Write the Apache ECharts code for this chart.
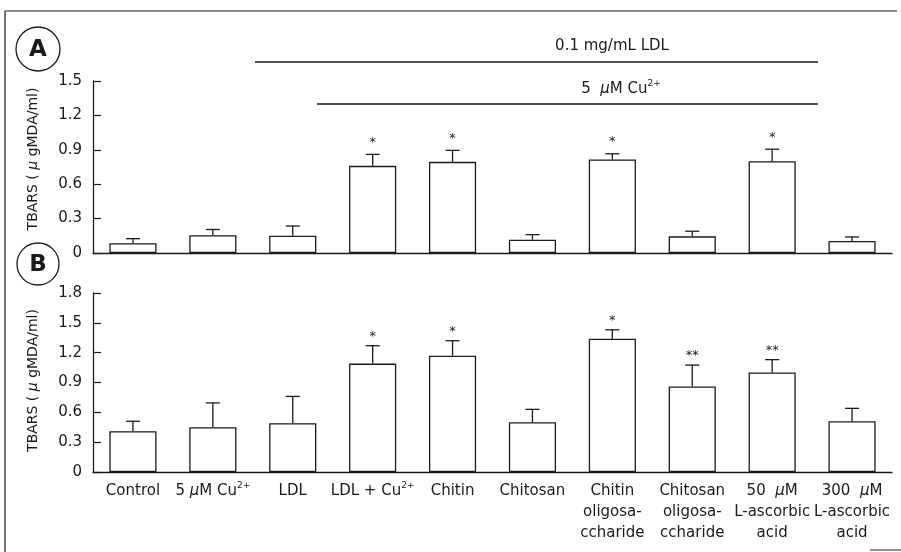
<!DOCTYPE html>
<html>
<head>
<meta charset="utf-8">
<script src="https://cdn.jsdelivr.net/npm/echarts@6/dist/echarts.min.js"></script>
<style>html,body{margin:0;padding:0;background:#fff}#c{width:901px;height:552px}</style>
</head>
<body>
<div id="c"></div>
<script>
var categories = ['Control', '5 {i|μ}M Cu{s|2+}', 'LDL', 'LDL + Cu{s|2+}', 'Chitin', 'Chitosan',
  'Chitin\noligosa-\nccharide', 'Chitosan\noligosa-\nccharide', '50  {i|μ}M\nL-ascorbic\nacid', '300  {i|μ}M\nL-ascorbic\nacid'];
var valuesA = [0.085, 0.155, 0.15, 0.76, 0.795, 0.115, 0.815, 0.145, 0.80, 0.105];
var errorsA = [0.04, 0.05, 0.085, 0.10, 0.10, 0.045, 0.05, 0.045, 0.105, 0.035];
var starsA = ['', '', '', '*', '*', '', '*', '', '*', ''];
var valuesB = [0.41, 0.45, 0.49, 1.09, 1.17, 0.50, 1.34, 0.86, 1.00, 0.51];
var errorsB = [0.10, 0.245, 0.27, 0.18, 0.15, 0.13, 0.09, 0.215, 0.13, 0.13];
var starsB = ['', '', '', '*', '*', '', '*', '**', '**', ''];
var yTicksA = {min: 0, max: 1.5, interval: 0.3};
var yTicksB = {min: 0, max: 1.8, interval: 0.3};
var yName = 'TBARS ( {i|μ} gMDA/ml)';
var bracketLDL = '0.1 mg/mL LDL';
var bracketCu = '5  {i|μ}M Cu{s|2+}';

var FONT = 'DejaVu Sans';
var INK = '#1a1a1a';

function richFor(size, lh) {
  return {
    i: {fontFamily: FONT, fontStyle: 'italic', fontSize: size, color: INK, lineHeight: lh},
    s: {fontFamily: FONT, fontSize: Math.round(size * 0.62), color: INK, verticalAlign: 'top', lineHeight: lh}
  };
}

function errRender(stars, offset) {
  return function (params, api) {
    var x = api.value(0), v = api.value(1), e = api.value(2);
    var p0 = api.coord([x, v]), p1 = api.coord([x, v + e]);
    var cap = 7;
    var ch = [
      {type: 'line', shape: {x1: p0[0], y1: p0[1], x2: p1[0], y2: p1[1]}, style: {stroke: INK, lineWidth: 1.3}},
      {type: 'line', shape: {x1: p1[0] - cap, y1: p1[1], x2: p1[0] + cap, y2: p1[1]}, style: {stroke: INK, lineWidth: 1.3}}
    ];
    var s = stars[params.dataIndex];
    if (s) ch.push({type: 'text', x: p1[0], y: p1[1] - offset,
      style: {text: s, fontSize: 13, fontFamily: FONT, fill: INK, align: 'center', verticalAlign: 'middle'}});
    return {type: 'group', children: ch};
  };
}

function xAxis(idx, showLabels) {
  return {
    type: 'category', gridIndex: idx, data: categories,
    axisLine: {lineStyle: {color: INK, width: 1.3}},
    axisTick: {inside: true, length: 7, alignWithLabel: false, lineStyle: {color: INK, width: 1.2}},
    axisLabel: {show: showLabels, interval: 0, margin: 9, fontFamily: FONT, fontSize: 15, lineHeight: 21, color: INK,
      rich: richFor(15, 21)}
  };
}
function yAxis(idx, t, pad) {
  return {
    type: 'value', gridIndex: idx, min: t.min, max: t.max, interval: t.interval,
    name: yName, nameLocation: 'middle', nameGap: 51, nameRotate: 90,
    nameTextStyle: {fontFamily: FONT, fontSize: 14, color: INK, rich: richFor(14, 18), padding: pad},
    axisLine: {show: true, lineStyle: {color: INK, width: 1.3}},
    axisTick: {show: true, inside: true, length: 8, lineStyle: {color: INK, width: 1.2}},
    axisLabel: {fontFamily: FONT, fontSize: 15, color: INK, margin: 11},
    splitLine: {show: false}
  };
}
function bars(idx, vals) {
  return {type: 'bar', xAxisIndex: idx, yAxisIndex: idx, data: vals, barWidth: '59%',
    itemStyle: {color: '#fff', borderColor: INK, borderWidth: 1.3}, silent: true};
}
function errs(idx, vals, errsArr, stars, off) {
  return {type: 'custom', xAxisIndex: idx, yAxisIndex: idx, z: 5, silent: true,
    data: vals.map(function (v, i) { return [i, v, errsArr[i]]; }),
    renderItem: errRender(stars, off)};
}

var chart = echarts.init(document.getElementById('c'), null, {renderer: 'canvas'});
chart.setOption({
  animation: false,
  backgroundColor: '#fff',
  grid: [
    {left: 93, right: 9, top: 81, height: 172},
    {left: 93, right: 9, top: 293, height: 179}
  ],
  xAxis: [xAxis(0, false), xAxis(1, true)],
  yAxis: [yAxis(0, yTicksA, [0, 0, 0, 16]), yAxis(1, yTicksB, [0, 0, 0, 4])],
  series: [
    bars(0, valuesA), errs(0, valuesA, errorsA, starsA, 12),
    bars(1, valuesB), errs(1, valuesB, errorsB, starsB, 9)
  ],
  graphic: [
    {type: 'line', shape: {x1: 5, y1: 11, x2: 897, y2: 11}, style: {stroke: INK, lineWidth: 1.2}},
    {type: 'line', shape: {x1: 5, y1: 11, x2: 5, y2: 552}, style: {stroke: INK, lineWidth: 1.2}},
    {type: 'line', shape: {x1: 870, y1: 550, x2: 901, y2: 550}, style: {stroke: INK, lineWidth: 1}},
    {type: 'circle', shape: {cx: 38, cy: 49, r: 22}, style: {fill: '#fff', stroke: INK, lineWidth: 1.3}},
    {type: 'text', x: 38, y: 50, style: {text: 'A', fontFamily: FONT, fontWeight: 'bold', fontSize: 23, fill: INK, align: 'center', verticalAlign: 'middle'}},
    {type: 'circle', shape: {cx: 38, cy: 264, r: 21}, style: {fill: '#fff', stroke: INK, lineWidth: 1.3}},
    {type: 'text', x: 38, y: 265, style: {text: 'B', fontFamily: FONT, fontWeight: 'bold', fontSize: 23, fill: INK, align: 'center', verticalAlign: 'middle'}},
    {type: 'line', shape: {x1: 255, y1: 62, x2: 818, y2: 62}, style: {stroke: INK, lineWidth: 1.3}},
    {type: 'text', x: 612, y: 46, style: {text: bracketLDL, fontFamily: FONT, fontSize: 15, fill: INK, align: 'center', verticalAlign: 'middle'}},
    {type: 'line', shape: {x1: 317, y1: 104, x2: 818, y2: 104}, style: {stroke: INK, lineWidth: 1.3}},
    {type: 'text', x: 621, y: 89, style: {text: bracketCu, fontFamily: FONT, fontSize: 15, lineHeight: 20, fill: INK, align: 'center', verticalAlign: 'middle', rich: richFor(15, 20)}}
  ]
});
</script>
</body>
</html>
